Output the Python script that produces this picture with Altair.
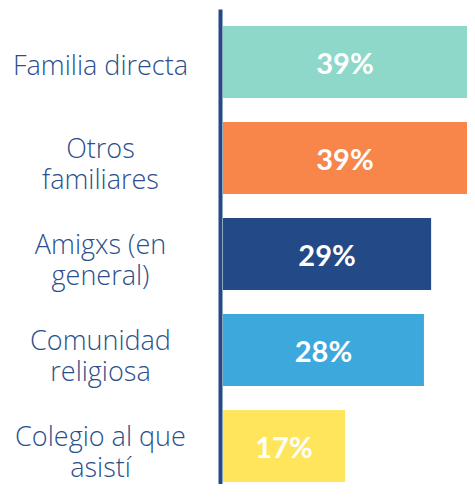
import altair as alt
import pandas as pd

categories = ["Familia directa", "Otros|familiares", "Amigxs (en|general)",
              "Comunidad|religiosa", "Colegio al que|asistí"]
values = [39, 39, 29, 28, 17]
labels = ["39%", "39%", "29%", "28%", "17%"]
colors = ["#8DD8C9", "#F8864A", "#234A87", "#3CA8DC", "#FFE55C"]

XMAX = 34.0

df = pd.DataFrame({"cat": categories, "value": values, "label": labels})

y = alt.Y("cat:N", sort=categories, title=None,
          scale=alt.Scale(paddingInner=0.25, paddingOuter=0.099, align=0.895),
          axis=alt.Axis(domainColor="#234A87", domainWidth=4, ticks=False, tickSize=0,
                        offset=3, labelPadding=120, labelAlign="center",
                        labelBaseline="middle", labelFont="Open Sans", labelFontSize=27,
                        labelFontWeight=300,
                        labelOffset={"condition": {"test": "indexof(datum.label, '|') >= 0",
                                                   "value": -8},
                                     "value": 5},
                        labelColor="#2C4F8C", labelLineHeight=31, labelLimit=300,
                        labelExpr="split(datum.label, '|')", grid=False))

xscale = alt.Scale(domain=[0, XMAX], clamp=True, nice=False, zero=True)

bars = alt.Chart(df).mark_bar(cornerRadius=0).encode(
    x=alt.X("value:Q", scale=xscale, axis=None),
    y=y,
    color=alt.Color("cat:N", scale=alt.Scale(domain=categories, range=colors), legend=None),
)

text = alt.Chart(df).transform_calculate(
    mid=f"min(datum.value, {XMAX}) / 2"
).mark_text(font="Lato", fontWeight="bold", fontSize=29, color="white",
            align="center", baseline="middle", dy=3).encode(
    x=alt.X("mid:Q", scale=xscale, axis=None),
    y=alt.Y("cat:N", sort=categories),
    text="label:N",
)

chart = alt.layer(bars, text).properties(
    width=244, height=475,
    autosize=alt.AutoSizeParams(type="none"),
    padding={"left": 215, "top": 1, "right": 0, "bottom": 0},
).configure_view(stroke=None)

chart.save("out.html", embed_options={"renderer": "svg", "actions": False})
